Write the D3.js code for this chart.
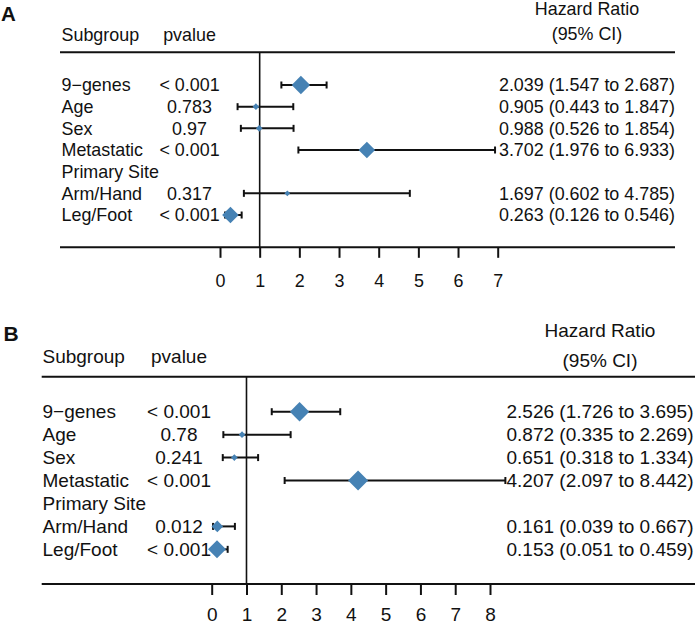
<!DOCTYPE html>
<html>
<head>
<meta charset="utf-8">
<script src="https://cdn.jsdelivr.net/npm/d3@7"></script>
<style>
  html, body { margin: 0; padding: 0; background: #fff; }
  svg { display: block; }
  text { font-family: "Liberation Sans", Arial, Helvetica, sans-serif; fill: #111; }
</style>
</head>
<body>
<svg id="chart" width="696" height="626"></svg>
<script>
// ---------- data ----------
const subgroups = ["9\u2212genes", "Age", "Sex", "Metastatic", "Primary Site", "Arm/Hand", "Leg/Foot"];

const pvalA = ["< 0.001", "0.783", "0.97", "< 0.001", "", "0.317", "< 0.001"];
const hrA   = [2.039, 0.905, 0.988, 3.702, null, 1.697, 0.263];
const lowA  = [1.547, 0.443, 0.526, 1.976, null, 0.602, 0.126];
const highA = [2.687, 1.847, 1.854, 6.933, null, 4.785, 0.546];
const weightA = [0.92, 0.33, 0.33, 0.83, null, 0.28, 0.83];
const ticksA = [0, 1, 2, 3, 4, 5, 6, 7];

const pvalB = ["< 0.001", "0.78", "0.241", "< 0.001", "", "0.012", "< 0.001"];
const hrB   = [2.526, 0.872, 0.651, 4.207, null, 0.161, 0.153];
const lowB  = [1.726, 0.335, 0.318, 2.097, null, 0.039, 0.051];
const highB = [3.695, 2.269, 1.334, 8.442, null, 0.667, 0.459];
const weightB = [0.97, 0.33, 0.33, 1.0, null, 0.58, 0.9];
const ticksB = [0, 1, 2, 3, 4, 5, 6, 7, 8];

const headerLeft = "Subgroup", headerP = "pvalue", headerHR1 = "Hazard Ratio", headerHR2 = "(95% CI)";

// ---------- drawing ----------
const svg = d3.select("#chart");
const fmt = d3.format(".3f");
const BOX = "#4682B4";

function drawPanel(g, L, data) {
  const fs = L.fontSize;
  const x = d3.scaleLinear().domain(L.domain).range(L.range);
  const y = d3.scaleLinear().domain([0, 1]).range([L.row0, L.row0 + L.rowStep]);
  const w = d3.scaleLinear().domain([0, 1]).range([0, L.boxMax]);

  // panel letter
  g.append("text").attr("x", L.letterX).attr("y", L.letterY)
    .attr("font-size", L.letterSize).attr("font-weight", "bold").text(L.letter);

  // headers
  g.append("text").attr("x", L.textX).attr("y", L.subY).attr("dy", "0.35em")
    .attr("font-size", fs).text(headerLeft);
  g.append("text").attr("x", L.pX).attr("y", L.subY).attr("dy", "0.35em")
    .attr("text-anchor", "middle").attr("font-size", fs).text(headerP);
  g.append("text").attr("x", L.hrX).attr("y", L.hr1Y).attr("dy", "0.35em")
    .attr("text-anchor", "middle").attr("font-size", fs).text(headerHR1);
  g.append("text").attr("x", L.hrX).attr("y", L.hr2Y).attr("dy", "0.35em")
    .attr("text-anchor", "middle").attr("font-size", fs).text(headerHR2);

  // horizontal rules
  [L.topLine, L.botLine].forEach(yy => {
    g.append("line").attr("x1", L.lineX1).attr("x2", L.lineX2)
      .attr("y1", yy).attr("y2", yy).attr("stroke", "#111").attr("stroke-width", 2);
  });

  // reference line at 1
  g.append("line").attr("x1", x(1)).attr("x2", x(1))
    .attr("y1", L.topLine).attr("y2", L.botLine)
    .attr("stroke", "#111").attr("stroke-width", 1.6);

  // axis
  const axis = d3.axisBottom(x).tickValues(data.ticks).tickFormat(d3.format("d"))
    .tickSize(L.tickLen).tickPadding(L.tickPad);
  const ax = g.append("g").attr("transform", `translate(0,${L.botLine})`).call(axis);
  ax.select(".domain").remove();
  ax.selectAll(".tick line").attr("stroke", "#111").attr("stroke-width", 2);
  ax.selectAll(".tick text").attr("font-size", fs).attr("fill", "#111")
    .attr("font-family", "Liberation Sans, Arial, sans-serif");

  // rows
  subgroups.forEach((name, i) => {
    const yy = y(i);
    g.append("text").attr("x", L.textX).attr("y", yy).attr("dy", "0.35em")
      .attr("font-size", fs).text(name);
    if (data.p[i]) {
      g.append("text").attr("x", L.pX).attr("y", yy).attr("dy", "0.35em")
        .attr("text-anchor", "middle").attr("font-size", fs).text(data.p[i]);
    }
    if (data.hr[i] != null) {
      const lo = x(data.low[i]), hi = x(data.high[i]), c = x(data.hr[i]);
      g.append("line").attr("x1", lo).attr("x2", hi).attr("y1", yy).attr("y2", yy)
        .attr("stroke", "#111").attr("stroke-width", 2);
      [lo, hi].forEach(xx => g.append("line").attr("x1", xx).attr("x2", xx)
        .attr("y1", yy - L.cap).attr("y2", yy + L.cap)
        .attr("stroke", "#111").attr("stroke-width", 2));
      const h = w(data.weight[i]);
      g.append("path")
        .attr("d", `M${c - h},${yy}L${c},${yy - h}L${c + h},${yy}L${c},${yy + h}Z`)
        .attr("fill", BOX);
      g.append("text").attr("x", L.rightX).attr("y", yy).attr("dy", "0.35em")
        .attr("text-anchor", "end").attr("font-size", fs)
        .text(`${fmt(data.hr[i])} (${fmt(data.low[i])} to ${fmt(data.high[i])})`);
    }
  });
}

drawPanel(svg.append("g"), {
  letter: "A", letterX: 1, letterY: 20.5, letterSize: 20.5,
  fontSize: 17.9, textX: 61.5, pX: 189.5, hrX: 587, rightX: 675,
  subY: 34.3, hr1Y: 8.5, hr2Y: 33.3,
  topLine: 52.3, botLine: 247.3, lineX1: 60, lineX2: 675,
  row0: 85, rowStep: 21.67,
  domain: [0, 7], range: [220, 497.7],
  tickLen: 10.5, tickPad: 16, cap: 3.5, boxMax: 10
}, { p: pvalA, hr: hrA, low: lowA, high: highA, weight: weightA, ticks: ticksA });

drawPanel(svg.append("g"), {
  letter: "B", letterX: 3.5, letterY: 340.5, letterSize: 21,
  fontSize: 19, textX: 42.5, pX: 179, hrX: 600, rightX: 693.5,
  subY: 356.7, hr1Y: 330, hr2Y: 360,
  topLine: 376.7, botLine: 584, lineX1: 41.7, lineX2: 695,
  row0: 411.7, rowStep: 22.94,
  domain: [0, 8], range: [211.7, 490],
  tickLen: 11, tickPad: 13, cap: 3.5, boxMax: 10
}, { p: pvalB, hr: hrB, low: lowB, high: highB, weight: weightB, ticks: ticksB });
</script>
</body>
</html>
